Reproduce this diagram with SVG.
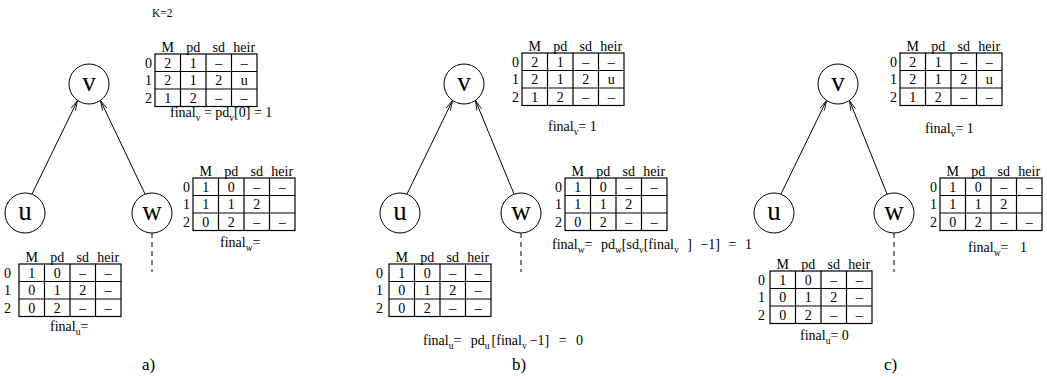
<svg xmlns="http://www.w3.org/2000/svg" xmlns:xlink="http://www.w3.org/1999/xlink" width="1047" height="379" viewBox="0 0 1047 379" font-family="'Liberation Serif', 'Times New Roman', serif">
<style>
text{font-family:"Liberation Serif","Times New Roman",serif;fill:#000}
.t{font-size:14px}
.c{text-anchor:middle}
.r{text-anchor:end}
.n{font-size:27px;text-anchor:middle}
.lab{font-size:17px}
.s{font-size:9.5px}
.circ{fill:#fff;stroke:#000;stroke-width:1}
.edge{stroke:#000;stroke-width:1;fill:none}
.dash{stroke:#000;stroke-width:1;stroke-dasharray:5 4}
.grid{fill:none;stroke:#000;stroke-width:1.2}
</style>
<defs>
<marker id="ah" viewBox="0 0 10 6" refX="10" refY="3" markerWidth="10" markerHeight="6" markerUnits="userSpaceOnUse" orient="auto"><path d="M0,0.5 L10,3 L0,5.5" fill="none" stroke="#000" stroke-width="0.8"/></marker>
<g id="grid">
<rect x="0" y="0" width="102" height="52.5" class="grid"/>
<path d="M25.5,0V52.5M51,0V52.5M76.5,0V52.5M0,17.5H102M0,35H102" class="grid"/>
<g class="t c"><text x="12.75" y="-2.5">M</text><text x="38.25" y="-2.5">pd</text><text x="63.75" y="-2.5">sd</text><text x="89.25" y="-2.5">heir</text></g>
</g>
<g id="idx3" class="t r"><text x="-3" y="13.5">0</text><text x="-3" y="31">1</text><text x="-3" y="48.5">2</text></g>
<g id="tv"><use xlink:href="#grid"/>
<g class="t c"><text x="12.75" y="13.5">2</text><text x="38.25" y="13.5">1</text><text x="63.75" y="13.5">–</text><text x="89.25" y="13.5">–</text>
<text x="12.75" y="31">2</text><text x="38.25" y="31">1</text><text x="63.75" y="31">2</text><text x="89.25" y="31">u</text>
<text x="12.75" y="48.5">1</text><text x="38.25" y="48.5">2</text><text x="63.75" y="48.5">–</text><text x="89.25" y="48.5">–</text></g></g>
<g id="tw"><use xlink:href="#grid"/>
<g class="t c"><text x="12.75" y="13.5">1</text><text x="38.25" y="13.5">0</text><text x="63.75" y="13.5">–</text><text x="89.25" y="13.5">–</text>
<text x="12.75" y="31">1</text><text x="38.25" y="31">1</text><text x="63.75" y="31">2</text>
<text x="12.75" y="48.5">0</text><text x="38.25" y="48.5">2</text><text x="63.75" y="48.5">–</text><text x="89.25" y="48.5">–</text></g></g>
<g id="tu"><use xlink:href="#grid"/>
<g class="t c"><text x="12.75" y="13.5">1</text><text x="38.25" y="13.5">0</text><text x="63.75" y="13.5">–</text><text x="89.25" y="13.5">–</text>
<text x="12.75" y="31">0</text><text x="38.25" y="31">1</text><text x="63.75" y="31">2</text><text x="89.25" y="31">–</text>
<text x="12.75" y="48.5">0</text><text x="38.25" y="48.5">2</text><text x="63.75" y="48.5">–</text><text x="89.25" y="48.5">–</text></g></g>
</defs>
<rect width="1047" height="379" fill="#fff"/>
<text x="152" y="17" font-size="11.5">K=2</text>

<!-- panel a -->
<g id="connectors-a">
<path class="edge" d="M32,194 L77.5,100.5" marker-end="url(#ah)"/>
<path class="edge" d="M145,194 L100.5,100.5" marker-end="url(#ah)"/>
<path class="dash" d="M152,233 V272"/>
</g>
<g id="node-v-a"><circle class="circ" cx="89" cy="84" r="20"/><text class="n" x="89" y="91">v</text><use xlink:href="#tv" x="155" y="54"/><use xlink:href="#idx3" x="155" y="54"/></g>
<g id="node-u-a"><circle class="circ" cx="25" cy="213" r="20"/><text class="n" x="25" y="220">u</text><use xlink:href="#tu" x="19" y="264"/><use xlink:href="#idx3" x="14" y="264"/></g>
<g id="node-w-a"><circle class="circ" cx="152" cy="213" r="20"/><text class="n" x="152" y="220">w</text><use xlink:href="#tw" x="193" y="178"/><use xlink:href="#idx3" x="193" y="178"/></g>
<text class="t" x="170" y="117">final<tspan class="s" dy="4">v</tspan><tspan dy="-4"> = pd</tspan><tspan class="s" dy="4">v</tspan><tspan dy="-4">[0] = 1</tspan></text>
<text class="t" x="220" y="247">final<tspan class="s" dy="4">w</tspan><tspan dy="-4">=</tspan></text>
<text class="t" x="50" y="331">final<tspan class="s" dy="4">u</tspan><tspan dy="-4">=</tspan></text>
<text class="lab" x="142" y="370">a)</text>

<!-- panel b -->
<g id="connectors-b">
<path class="edge" d="M407,194 L452.5,100.5" marker-end="url(#ah)"/>
<path class="edge" d="M514,194 L475.5,100.5" marker-end="url(#ah)"/>
<path class="dash" d="M521,233 V272"/>
</g>
<g id="node-v-b"><circle class="circ" cx="464" cy="84" r="20"/><text class="n" x="464" y="91">v</text><use xlink:href="#tv" x="522" y="53"/><use xlink:href="#idx3" x="522" y="53"/></g>
<g id="node-u-b"><circle class="circ" cx="400" cy="213" r="20"/><text class="n" x="400" y="220">u</text><use xlink:href="#tu" x="389" y="264"/><use xlink:href="#idx3" x="386" y="264"/></g>
<g id="node-w-b"><circle class="circ" cx="521" cy="213" r="20"/><text class="n" x="521" y="220">w</text><use xlink:href="#tw" x="565" y="178"/><use xlink:href="#idx3" x="565" y="178"/></g>
<text class="t" x="548" y="131">final<tspan class="s" dy="4">v</tspan><tspan dy="-4">=  1</tspan></text>
<text class="t" x="552" y="249" word-spacing="5">final<tspan class="s" dy="4">w</tspan><tspan dy="-4">= pd</tspan><tspan class="s" dy="4">w</tspan><tspan dy="-4">[sd</tspan><tspan class="s" dy="4">v</tspan><tspan dy="-4">[final</tspan><tspan class="s" dy="4">v</tspan><tspan dy="-4"> ] −1] = 1</tspan></text>
<text class="t" x="423" y="345" word-spacing="6">final<tspan class="s" dy="4">u</tspan><tspan dy="-4">= pd</tspan><tspan class="s" dy="4">u</tspan><tspan dy="-4" dx="2">[final</tspan><tspan class="s" dy="4">v</tspan><tspan dy="-4" dx="3">−1] = 0</tspan></text>
<text class="lab" x="512" y="370">b)</text>

<!-- panel c -->
<g id="connectors-c">
<path class="edge" d="M781,194 L826.5,100.5" marker-end="url(#ah)"/>
<path class="edge" d="M887,194 L849.5,100.5" marker-end="url(#ah)"/>
<path class="dash" d="M894,233 V272"/>
</g>
<g id="node-v-c"><circle class="circ" cx="838" cy="84" r="20"/><text class="n" x="838" y="91">v</text><use xlink:href="#tv" x="900" y="53"/><use xlink:href="#idx3" x="900" y="53"/></g>
<g id="node-u-c"><circle class="circ" cx="774" cy="213" r="20"/><text class="n" x="774" y="220">u</text><use xlink:href="#tu" x="770" y="271"/><use xlink:href="#idx3" x="768" y="271"/></g>
<g id="node-w-c"><circle class="circ" cx="894" cy="213" r="20"/><text class="n" x="894" y="220">w</text><use xlink:href="#tw" x="940" y="178"/><use xlink:href="#idx3" x="940" y="178"/></g>
<text class="t" x="925" y="133">final<tspan class="s" dy="4">v</tspan><tspan dy="-4">=  1</tspan></text>
<text class="t" x="968" y="252" word-spacing="8">final<tspan class="s" dy="4">w</tspan><tspan dy="-4">= 1</tspan></text>
<text class="t" x="800" y="340">final<tspan class="s" dy="4">u</tspan><tspan dy="-4">=  0</tspan></text>
<text class="lab" x="884" y="370">c)</text>
</svg>
